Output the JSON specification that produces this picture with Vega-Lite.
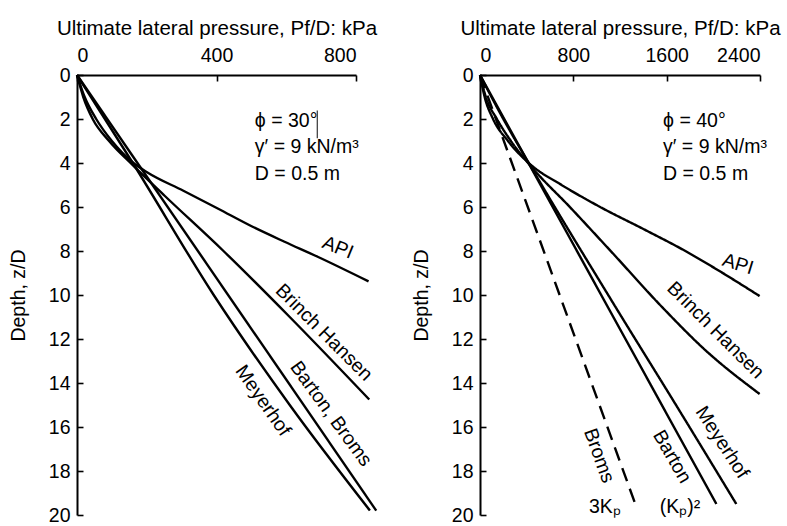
{
  "$schema": "https://vega.github.io/schema/vega-lite/v6.json",
  "padding": {"left": 8, "top": 18, "right": 5, "bottom": 2},
  "background": "white",
  "bounds": "flush",
  "spacing": 124,
  "config": {
    "view": {"stroke": null},
    "font": "Liberation Sans",
    "axis": {
      "domainColor": "black", "domainWidth": 2, "tickColor": "black", "tickWidth": 1.6, "tickSize": -6,
      "labelColor": "black", "titleColor": "black", "labelFont": "Liberation Sans", "titleFont": "Liberation Sans",
      "labelFontSize": 19.5, "titleFontSize": 19.5, "titleFontWeight": "normal", "grid": false
    },
    "text": {"font": "Liberation Sans", "fontSize": 19.5, "color": "black"}
  },
  "hconcat": [
    {
      "width": 279, "height": 440,
      "layer": [
        {
          "data": {"values": [
            {"series": "API", "depth": 0, "p": 0}, {"series": "API", "depth": 1, "p": 22}, {"series": "API", "depth": 2, "p": 55}, {"series": "API", "depth": 3, "p": 100}, {"series": "API", "depth": 4, "p": 162}, {"series": "API", "depth": 4.43, "p": 202}, {"series": "API", "depth": 5.26, "p": 305}, {"series": "API", "depth": 6.08, "p": 405}, {"series": "API", "depth": 6.91, "p": 505}, {"series": "API", "depth": 7.58, "p": 595}, {"series": "API", "depth": 8.26, "p": 690}, {"series": "API", "depth": 9.38, "p": 836},
            {"series": "Brinch Hansen", "depth": 0, "p": 0}, {"series": "Brinch Hansen", "depth": 1, "p": 18}, {"series": "Brinch Hansen", "depth": 2, "p": 45}, {"series": "Brinch Hansen", "depth": 3, "p": 92}, {"series": "Brinch Hansen", "depth": 4.1, "p": 160}, {"series": "Brinch Hansen", "depth": 5.5, "p": 252}, {"series": "Brinch Hansen", "depth": 8, "p": 420}, {"series": "Brinch Hansen", "depth": 11, "p": 610}, {"series": "Brinch Hansen", "depth": 14.75, "p": 838},
            {"series": "Barton, Broms", "depth": 0, "p": 0}, {"series": "Barton, Broms", "depth": 19.8, "p": 858},
            {"series": "Meyerhof", "depth": 0, "p": 0}, {"series": "Meyerhof", "depth": 4, "p": 160}, {"series": "Meyerhof", "depth": 10, "p": 392}, {"series": "Meyerhof", "depth": 15, "p": 610}, {"series": "Meyerhof", "depth": 19.8, "p": 840}
          ]},
          "mark": {"type": "line", "color": "black", "strokeWidth": 2.4, "interpolate": "monotone"},
          "encoding": {
            "x": {"field": "p", "type": "quantitative", "scale": {"domain": [0, 800], "nice": false},
                  "axis": {"orient": "top", "values": [0, 400, 800], "format": "d", "title": "Ultimate lateral pressure, Pf/D: kPa", "titleFontSize": 20.5, "labelPadding": 16, "titlePadding": 7}},
            "y": {"field": "depth", "type": "quantitative", "scale": {"domain": [0, 20], "reverse": true, "nice": false},
                  "axis": {"values": [0, 2, 4, 6, 8, 10, 12, 14, 16, 18, 20], "title": "Depth, z/D", "labelPadding": 13, "titlePadding": 20}},
            "detail": {"field": "series"},
            "order": {"field": "depth", "type": "quantitative"}
          }
        },
        {
          "data": {"values": [{"p": 689, "depth": 1.61, "depth2": 2.88}]},
          "mark": {"type": "rule", "color": "#333333", "strokeWidth": 1.2},
          "encoding": {
            "x": {"field": "p", "type": "quantitative", "scale": {"domain": [0, 800], "nice": false}},
            "y": {"field": "depth", "type": "quantitative", "scale": {"domain": [0, 20], "reverse": true, "nice": false}},
            "y2": {"field": "depth2"}
          }
        },
        {
          "data": {"values": [
            {"p": 510, "depth": 2.36, "t": "ϕ = 30°"},
            {"p": 510, "depth": 3.54, "t": "γ′ = 9 kN/m³"},
            {"p": 510, "depth": 4.77, "t": "D = 0.5 m"}
          ]},
          "mark": {"type": "text", "align": "left", "baseline": "alphabetic"},
          "encoding": {
            "x": {"field": "p", "type": "quantitative", "scale": {"domain": [0, 800], "nice": false}},
            "y": {"field": "depth", "type": "quantitative", "scale": {"domain": [0, 20], "reverse": true, "nice": false}},
            "text": {"field": "t"}
          }
        },
        {
          "data": {"values": [{"p": 748, "depth": 7.85, "t": "API"}]},
          "mark": {"type": "text", "align": "center", "baseline": "middle", "angle": 22},
          "encoding": {
            "x": {"field": "p", "type": "quantitative", "scale": {"domain": [0, 800], "nice": false}},
            "y": {"field": "depth", "type": "quantitative", "scale": {"domain": [0, 20], "reverse": true, "nice": false}},
            "text": {"field": "t"}
          }
        },
        {
          "data": {"values": [{"p": 708, "depth": 11.7, "t": "Brinch Hansen"}]},
          "mark": {"type": "text", "align": "center", "baseline": "middle", "angle": 45},
          "encoding": {
            "x": {"field": "p", "type": "quantitative", "scale": {"domain": [0, 800], "nice": false}},
            "y": {"field": "depth", "type": "quantitative", "scale": {"domain": [0, 20], "reverse": true, "nice": false}},
            "text": {"field": "t"}
          }
        },
        {
          "data": {"values": [{"p": 728, "depth": 15.4, "t": "Barton, Broms"}]},
          "mark": {"type": "text", "align": "center", "baseline": "middle", "angle": 54},
          "encoding": {
            "x": {"field": "p", "type": "quantitative", "scale": {"domain": [0, 800], "nice": false}},
            "y": {"field": "depth", "type": "quantitative", "scale": {"domain": [0, 20], "reverse": true, "nice": false}},
            "text": {"field": "t"}
          }
        },
        {
          "data": {"values": [{"p": 533, "depth": 14.8, "t": "Meyerhof"}]},
          "mark": {"type": "text", "align": "center", "baseline": "middle", "angle": 55},
          "encoding": {
            "x": {"field": "p", "type": "quantitative", "scale": {"domain": [0, 800], "nice": false}},
            "y": {"field": "depth", "type": "quantitative", "scale": {"domain": [0, 20], "reverse": true, "nice": false}},
            "text": {"field": "t"}
          }
        }
      ]
    },
    {
      "width": 280, "height": 440,
      "layer": [
        {
          "data": {"values": [
            {"series": "API", "style": "solid", "depth": 0, "p": 0}, {"series": "API", "style": "solid", "depth": 1, "p": 40}, {"series": "API", "style": "solid", "depth": 2, "p": 112}, {"series": "API", "style": "solid", "depth": 3, "p": 240}, {"series": "API", "style": "solid", "depth": 4.1, "p": 440}, {"series": "API", "style": "solid", "depth": 5, "p": 700}, {"series": "API", "style": "solid", "depth": 6, "p": 1030}, {"series": "API", "style": "solid", "depth": 7, "p": 1400}, {"series": "API", "style": "solid", "depth": 8, "p": 1760}, {"series": "API", "style": "solid", "depth": 9, "p": 2080}, {"series": "API", "style": "solid", "depth": 10.05, "p": 2397},
            {"series": "Brinch Hansen", "style": "solid", "depth": 0, "p": 0}, {"series": "Brinch Hansen", "style": "solid", "depth": 1, "p": 50}, {"series": "Brinch Hansen", "style": "solid", "depth": 2, "p": 145}, {"series": "Brinch Hansen", "style": "solid", "depth": 3, "p": 265}, {"series": "Brinch Hansen", "style": "solid", "depth": 4.2, "p": 445}, {"series": "Brinch Hansen", "style": "solid", "depth": 6, "p": 770}, {"series": "Brinch Hansen", "style": "solid", "depth": 8, "p": 1120}, {"series": "Brinch Hansen", "style": "solid", "depth": 10.6, "p": 1570}, {"series": "Brinch Hansen", "style": "solid", "depth": 12.5, "p": 1930}, {"series": "Brinch Hansen", "style": "solid", "depth": 14.5, "p": 2397},
            {"series": "Meyerhof", "style": "solid", "depth": 0, "p": 0}, {"series": "Meyerhof", "style": "solid", "depth": 2, "p": 200}, {"series": "Meyerhof", "style": "solid", "depth": 4.2, "p": 440}, {"series": "Meyerhof", "style": "solid", "depth": 10.6, "p": 1168}, {"series": "Meyerhof", "style": "solid", "depth": 15, "p": 1680}, {"series": "Meyerhof", "style": "solid", "depth": 19.5, "p": 2197},
            {"series": "Barton", "style": "solid", "depth": 0, "p": 0}, {"series": "Barton", "style": "solid", "depth": 19.5, "p": 2026},
            {"series": "Broms", "style": "dashed", "depth": 0, "p": 0}, {"series": "Broms", "style": "dashed", "depth": 19.5, "p": 1331}
          ]},
          "mark": {"type": "line", "color": "black", "strokeWidth": 2.4, "interpolate": "monotone"},
          "encoding": {
            "x": {"field": "p", "type": "quantitative", "scale": {"domain": [0, 2400], "nice": false},
                  "axis": {"orient": "top", "values": [0, 800, 1600, 2400], "format": "d", "title": "Ultimate lateral pressure, Pf/D: kPa", "titleFontSize": 20.5, "labelPadding": 16, "titlePadding": 7}},
            "y": {"field": "depth", "type": "quantitative", "scale": {"domain": [0, 20], "reverse": true, "nice": false},
                  "axis": {"values": [0, 2, 4, 6, 8, 10, 12, 14, 16, 18, 20], "title": "Depth, z/D", "labelPadding": 13, "titlePadding": 20}},
            "detail": {"field": "series"},
            "strokeDash": {"field": "style", "type": "nominal", "scale": {"domain": ["solid", "dashed"], "range": [[1, 0], [14, 8]]}, "legend": null},
            "order": {"field": "depth", "type": "quantitative"}
          }
        },
        {
          "data": {"values": [
            {"p": 1569, "depth": 2.36, "t": "ϕ = 40°"},
            {"p": 1569, "depth": 3.54, "t": "γ′ = 9 kN/m³"},
            {"p": 1569, "depth": 4.77, "t": "D = 0.5 m"}
          ]},
          "mark": {"type": "text", "align": "left", "baseline": "alphabetic"},
          "encoding": {
            "x": {"field": "p", "type": "quantitative", "scale": {"domain": [0, 2400], "nice": false}},
            "y": {"field": "depth", "type": "quantitative", "scale": {"domain": [0, 20], "reverse": true, "nice": false}},
            "text": {"field": "t"}
          }
        },
        {
          "data": {"values": [{"p": 2211, "depth": 8.6, "t": "API"}]},
          "mark": {"type": "text", "align": "center", "baseline": "middle", "angle": 17},
          "encoding": {
            "x": {"field": "p", "type": "quantitative", "scale": {"domain": [0, 2400], "nice": false}},
            "y": {"field": "depth", "type": "quantitative", "scale": {"domain": [0, 20], "reverse": true, "nice": false}},
            "text": {"field": "t"}
          }
        },
        {
          "data": {"values": [{"p": 2019, "depth": 11.6, "t": "Brinch Hansen"}]},
          "mark": {"type": "text", "align": "center", "baseline": "middle", "angle": 45},
          "encoding": {
            "x": {"field": "p", "type": "quantitative", "scale": {"domain": [0, 2400], "nice": false}},
            "y": {"field": "depth", "type": "quantitative", "scale": {"domain": [0, 20], "reverse": true, "nice": false}},
            "text": {"field": "t"}
          }
        },
        {
          "data": {"values": [{"p": 2075, "depth": 16.7, "t": "Meyerhof"}]},
          "mark": {"type": "text", "align": "center", "baseline": "middle", "angle": 57},
          "encoding": {
            "x": {"field": "p", "type": "quantitative", "scale": {"domain": [0, 2400], "nice": false}},
            "y": {"field": "depth", "type": "quantitative", "scale": {"domain": [0, 20], "reverse": true, "nice": false}},
            "text": {"field": "t"}
          }
        },
        {
          "data": {"values": [{"p": 1646, "depth": 17.35, "t": "Barton"}]},
          "mark": {"type": "text", "align": "center", "baseline": "middle", "angle": 60},
          "encoding": {
            "x": {"field": "p", "type": "quantitative", "scale": {"domain": [0, 2400], "nice": false}},
            "y": {"field": "depth", "type": "quantitative", "scale": {"domain": [0, 20], "reverse": true, "nice": false}},
            "text": {"field": "t"}
          }
        },
        {
          "data": {"values": [{"p": 1020, "depth": 17.3, "t": "Broms"}]},
          "mark": {"type": "text", "align": "center", "baseline": "middle", "angle": 70},
          "encoding": {
            "x": {"field": "p", "type": "quantitative", "scale": {"domain": [0, 2400], "nice": false}},
            "y": {"field": "depth", "type": "quantitative", "scale": {"domain": [0, 20], "reverse": true, "nice": false}},
            "text": {"field": "t"}
          }
        },
        {
          "data": {"values": [{"p": 1071, "depth": 19.65, "t": "3Kₚ"}, {"p": 1714, "depth": 19.65, "t": "(Kₚ)²"}]},
          "mark": {"type": "text", "align": "center", "baseline": "middle"},
          "encoding": {
            "x": {"field": "p", "type": "quantitative", "scale": {"domain": [0, 2400], "nice": false}},
            "y": {"field": "depth", "type": "quantitative", "scale": {"domain": [0, 20], "reverse": true, "nice": false}},
            "text": {"field": "t"}
          }
        }
      ]
    }
  ]
}
